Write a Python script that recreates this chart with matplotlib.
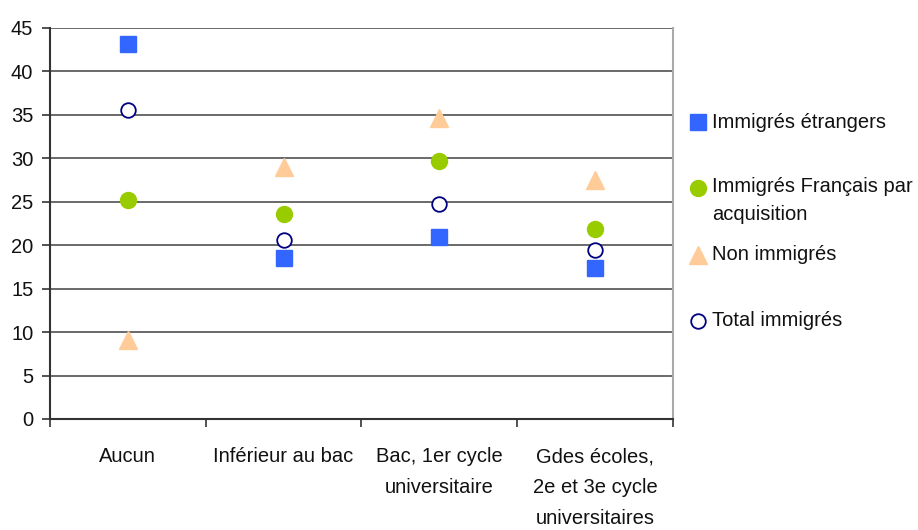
import matplotlib
matplotlib.use("Agg")
import matplotlib.pyplot as plt
from matplotlib.lines import Line2D
from matplotlib.ticker import FixedLocator

plt.rcParams["font.family"] = ["Liberation Sans Narrow", "Liberation Sans", "DejaVu Sans"]

categories = [
    "Aucun",
    "Inférieur au bac",
    "Bac, 1er cycle\nuniversitaire",
    "Gdes écoles,\n2e et 3e cycle\nuniversitaires",
]
etrangers = [43.2, 18.5, 20.9, 17.4]
francais_acq = [25.2, 23.6, 29.7, 21.9]
non_immigres = [9.1, 29.0, 34.6, 27.5]
total_immigres = [35.6, 20.6, 24.7, 19.4]

series = [
    ("Immigrés étrangers", etrangers, dict(marker="s", color="#3366FF", mec="#3366FF", ms=11)),
    ("Immigrés Français par\nacquisition", francais_acq, dict(marker="o", color="#99CC00", mec="#99CC00", ms=11.5)),
    ("Non immigrés", non_immigres, dict(marker="^", color="#FFCC99", mec="#FFCC99", ms=12.5)),
    ("Total immigrés", total_immigres, dict(marker="o", color="white", mec="#000080", mew=1.3, ms=10.5)),
]

fig = plt.figure(figsize=(9.18, 5.30), dpi=100)
ax = fig.add_axes([50 / 918, 111 / 530, 623 / 918, 391 / 530])

x = range(len(categories))
for name, vals, style in series:
    ax.plot(x, vals, linestyle="none", zorder=3, **style)

ax.set_xlim(-0.5, len(categories) - 0.5)
ax.set_ylim(0, 45)
ax.set_yticks(range(0, 46, 5))
ax.yaxis.grid(True, color="#505050", linewidth=1.2)
ax.set_axisbelow(True)

ax.set_xticks(list(x))
ax.set_xticklabels(categories, linespacing=1.78)
ax.xaxis.set_minor_locator(FixedLocator([i - 0.5 for i in range(len(categories) + 1)]))
ax.tick_params(axis="x", which="major", length=0, pad=20.5, labelsize=14.5, colors="#111111")
ax.tick_params(axis="x", which="minor", length=6, width=1.2, color="#333333")
ax.tick_params(axis="y", length=6, width=1.2, pad=6, labelsize=14.5, color="#333333", labelcolor="#111111")

ax.spines["top"].set_visible(False)
ax.spines["right"].set_color("#aaaaaa")
ax.spines["right"].set_linewidth(1.5)
for s in ("left", "bottom"):
    ax.spines[s].set_color("#333333")
    ax.spines[s].set_linewidth(1.5)

# legend drawn by hand to match the spacing of the original
leg_y = [122, 188, 255, 321]
for (name, vals, style), py in zip(series, leg_y):
    fy = 1 - py / 530
    fig.add_artist(Line2D([698 / 918], [fy], transform=fig.transFigure, linestyle="none", **style))
    if "\n" in name:
        fig.text(712 / 918, fy + 11 / 530, name, fontsize=14.5, va="top", ha="left",
                 linespacing=1.6, color="#111111")
    else:
        fig.text(712 / 918, fy, name, fontsize=14.5, va="center", ha="left", color="#111111")

fig.savefig("out.png", dpi=100)
